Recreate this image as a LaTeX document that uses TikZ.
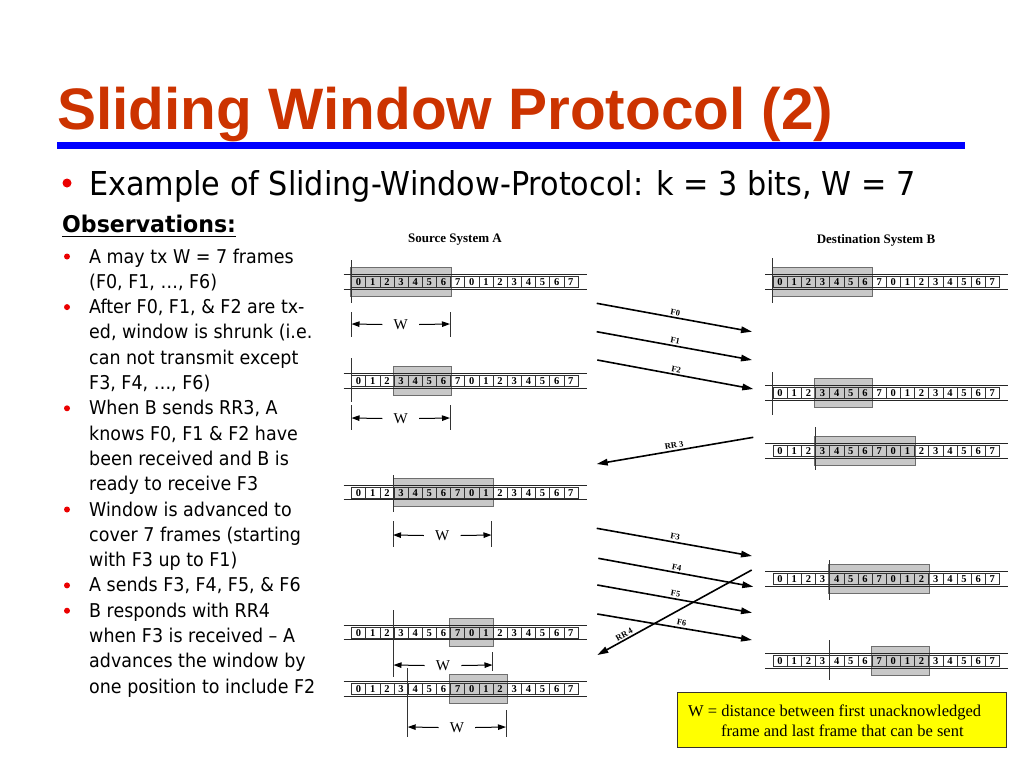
\documentclass[tikz,border=0pt]{standalone}
\usepackage{fontspec}
\setmainfont{Liberation Serif}
\newfontfamily\tah{DejaVu Sans}[FakeStretch=0.92]
\newfontfamily\tahbig{DejaVu Sans}[FakeStretch=0.92]
\newfontfamily\tahb{DejaVu Sans}[FakeStretch=0.96]
\newfontfamily\arialf{Liberation Sans}
\usetikzlibrary{arrows.meta}
\definecolor{titlered}{RGB}{204,51,0}
\definecolor{rulerblue}{RGB}{0,0,255}
\definecolor{bulletred}{RGB}{235,0,0}
\definecolor{wingray}{RGB}{200,200,200}
\definecolor{winedge}{RGB}{110,110,110}
\definecolor{notey}{RGB}{255,255,0}
\def\cw{14.15}
\tikzset{
  txt/.style={anchor=base west,inner sep=0pt,font=\tah\fontsize{19}{19}\selectfont},
  num/.style={inner sep=0pt,font=\bfseries\fontsize{10.5}{10.5}\selectfont},
  winbox/.style={fill=wingray,draw=winedge,line width=0.8pt},
  stripline/.style={line width=0.7pt,draw=black!85},
  cellline/.style={line width=0.5pt,draw=black!80},
  markline/.style={line width=0.9pt,draw=black!80},
  wlab/.style={inner sep=0pt,inner xsep=11pt,font=\fontsize{15}{15}\selectfont},
  warrow/.style={line width=1pt,-{Triangle[length=8pt,width=5.5pt]}},
  msg/.style={line width=1.6pt,-{Triangle[length=11pt,width=6.5pt]}},
  msgback/.style={line width=1.6pt,{Triangle[length=11pt,width=6.5pt]}-},
  mlab/.style={sloped,above,inner sep=1.5pt,font=\bfseries\fontsize{8.5}{8.5}\selectfont},
  syslab/.style={inner sep=0pt,font=\bfseries\fontsize{13}{13}\selectfont},
  rdot/.style={fill=bulletred,draw=none},
}
% #1 name, #2 x0, #3 yc, #4 window start, #5 window end
\newcommand{\mystrip}[5]{%
  \fill[winbox] ({#2+#4*\cw-1},{#3-14.3}) rectangle ({#2+#5*\cw+0.5},{#3+14.3});
  \draw[stripline] ({#2-8},{#3-7.2}) -- ({#2+16*\cw+9},{#3-7.2});
  \draw[stripline] ({#2-8},{#3+7.2}) -- ({#2+16*\cw+9},{#3+7.2});
  \draw[cellline] ({#2},{#3-5.6}) rectangle ({#2+16*\cw},{#3+5.6});
  \foreach \i in {1,...,15} {\draw[cellline] ({#2+\i*\cw},{#3-5.6}) -- ({#2+\i*\cw},{#3+5.6});}
  \foreach \i in {0,...,15} {\pgfmathtruncatemacro\lab{mod(\i,8)}%
    \node[num] (#1-\i) at ({#2+(\i+0.5)*\cw},{#3+0.3}) {\lab};}
}
% #1 name, #2 xl, #3 xr, #4 y arrow
\newcommand{\wdim}[4]{%
  \node[wlab] (#1) at ({(#2+#3)/2},{#4+0.5}) {W};
  \coordinate (#1-l) at (#2,#4);
  \coordinate (#1-r) at (#3,#4);
  \draw[warrow] (#1.west) -- (#1-l);
  \draw[warrow] (#1.east) -- (#1-r);
}
\begin{document}
\begin{tikzpicture}[x=1pt,y=-1pt]
\useasboundingbox (0,0) rectangle (1024,768);
\fill[white] (0,0) rectangle (1024,768);
% title
\node[anchor=base west,inner sep=0pt,text=titlered,font=\arialf\bfseries\fontsize{58.5}{58.5}\selectfont] (title) at (57,129) {Sliding Window Protocol (2)};
\fill[rulerblue] (57,142) rectangle (965,149);
% main bullet
\fill[rdot] (67,183) circle (4.5);
\node[anchor=base west,inner sep=0pt,font=\tahbig\fontsize{32.9}{32.9}\selectfont] (ex) at (89,195) {Example of Sliding-Window-Protocol: k = 3 bits, W = 7};
% observations
\node[anchor=base west,inner sep=0pt,font=\tahb\bfseries\fontsize{23}{23}\selectfont] (obs) at (62,232) {Observations:};
\draw[line width=1.6pt] (62,236.5) -- (obs.east |- 0,236.5);
\foreach \t [count=\k] in {A may tx W = 7 frames,{(F0, F1, …, F6)},{After F0, F1, \& F2 are tx-},{ed, window is shrunk (i.e.},can not transmit except,{F3, F4, …, F6)},{When B sends RR3, A},{knows F0, F1 \& F2 have},been received and B is,ready to receive F3,Window is advanced to,cover 7 frames (starting,with F3 up to F1),{A sends F3, F4, F5, \& F6},B responds with RR4,when F3 is received – A,advances the window by,one position to include F2}{
  \node[txt] (obs\k) at (89,{263+(\k-1)*25.3}) {\t};
}
\foreach \k in {1,3,7,11,14,15}{\fill[rdot] (67,{263+(\k-1)*25.3-6.5}) circle (3);}
% system labels
\node[syslab] (srcA) at (455,240) {Source System A};
\node[syslab] (dstB) at (876,240) {Destination System B};
% source strips
\mystrip{sa}{351.5}{282}{0}{7}
\draw[markline] (351,260) -- (351,303);
\draw[markline] (351.5,312) -- (351.5,337); \draw[markline] (450,312) -- (450,337);
\wdim{w1}{351.5}{450}{324}
\mystrip{sb}{351.5}{381}{3}{7}
\draw[markline] (351,358) -- (351,402);
\draw[markline] (351.5,405) -- (351.5,430); \draw[markline] (450,405) -- (450,430);
\wdim{w2}{351.5}{450}{418}
\mystrip{sc}{351.5}{492.5}{3}{10}
\draw[markline] (393.5,475) -- (393.5,512);
\draw[markline] (393,521) -- (393,547); \draw[markline] (491.5,521) -- (491.5,547);
\wdim{w3}{393}{491.5}{535}
\mystrip{sd}{351.5}{632.5}{7}{10}
\draw[markline] (393.5,610) -- (393.5,677);
\draw[markline] (492.5,652) -- (492.5,671);
\wdim{w4}{393.5}{492.5}{665}
\mystrip{se}{351.5}{689}{7}{11}
\draw[markline] (407.7,668) -- (407.7,737);
\draw[markline] (506,710) -- (506,737);
\wdim{w5}{407.7}{506}{727}
% destination strips
\mystrip{da}{773}{282}{0}{7}
\draw[markline] (772.5,258) -- (772.5,303);
\mystrip{db}{773}{393}{3}{7}
\draw[markline] (772.5,372) -- (772.5,415);
\mystrip{dc}{773}{451}{3}{10}
\draw[markline] (815.5,427) -- (815.5,470);
\mystrip{dd}{773}{579}{4}{11}
\draw[markline] (829.5,560) -- (829.5,600);
\mystrip{de}{773}{661}{7}{11}
\draw[markline] (829.5,640) -- (829.5,680);
% messages
\coordinate (f0s) at (596.7,303.3); \coordinate (f0e) at (752,331.7);
\coordinate (f1s) at (596.7,331.7); \coordinate (f1e) at (752,360);
\coordinate (f2s) at (597.3,360);   \coordinate (f2e) at (753.3,389);
\coordinate (r3a) at (596.7,464);   \coordinate (r3b) at (753.3,437.3);
\coordinate (f3s) at (596.7,528.3); \coordinate (f3e) at (752,556);
\coordinate (f4s) at (598.3,558.3); \coordinate (f4e) at (753.3,586.7);
\coordinate (f5s) at (597.3,585);   \coordinate (f5e) at (752,612.7);
\coordinate (f6s) at (597.3,614);   \coordinate (f6e) at (752,640);
\coordinate (r4a) at (597.3,655);   \coordinate (r4b) at (751.7,570);
\draw[msg] (f0s) -- node[mlab] {F0} (f0e);
\draw[msg] (f1s) -- node[mlab] {F1} (f1e);
\draw[msg] (f2s) -- node[mlab] {F2} (f2e);
\draw[msgback] (r3a) -- node[mlab] {RR 3} (r3b);
\draw[msg] (f3s) -- node[mlab] {F3} (f3e);
\draw[msg] (f4s) -- node[mlab] {F4} (f4e);
\draw[msg] (f5s) -- node[mlab] {F5} (f5e);
\draw[msg] (f6s) -- node[mlab,pos=0.54] {F6} (f6e);
\draw[msgback] (r4a) -- node[mlab,pos=0.19] {RR\,4} (r4b);
% note
\node[draw=black!80!olive,line width=0.8pt,fill=notey,minimum width=329pt,minimum height=55pt,inner sep=0pt] (note) at (841.5,719.5) {};
\node[anchor=base west,inner sep=0pt,font=\fontsize{16.5}{16.5}\selectfont] (n1) at (688,716) {W = distance between first unacknowledged};
\node[anchor=base west,inner sep=0pt,font=\fontsize{16.5}{16.5}\selectfont] (n2) at (721,736) {frame and last frame that can be sent};
\end{tikzpicture}
\end{document}
